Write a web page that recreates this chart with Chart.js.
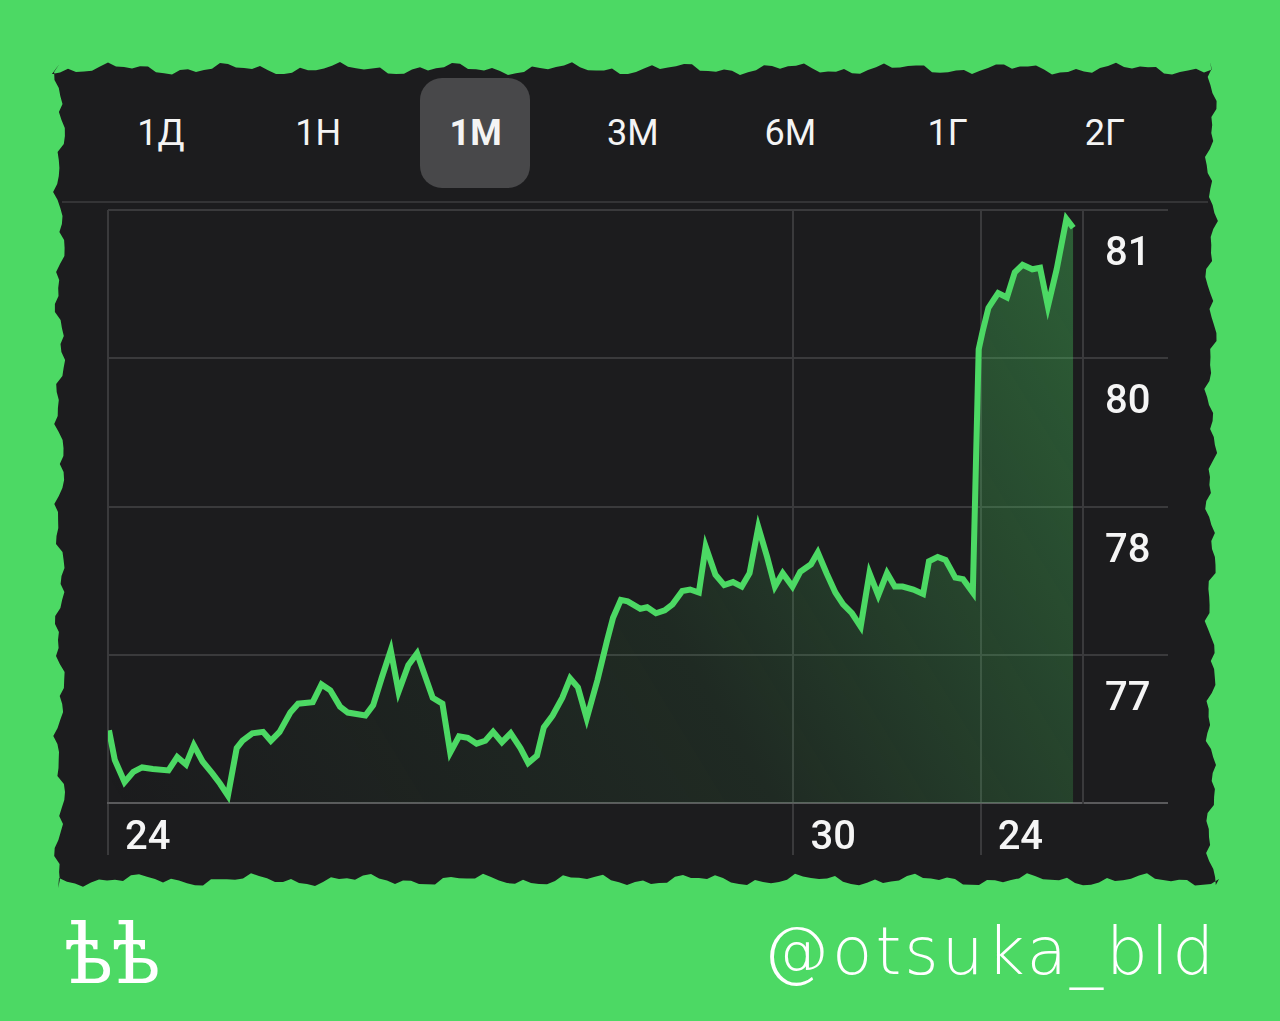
<!DOCTYPE html>
<html>
<head>
<meta charset="utf-8">
<script src="https://cdn.jsdelivr.net/npm/chart.js"></script>
<style>
  html, body { margin: 0; padding: 0; }
  body {
    width: 1280px; height: 1021px; overflow: hidden; position: relative;
    background: #4cd964;
    font-family: Roboto, "Liberation Sans", sans-serif;
  }
  #panel { position: absolute; left: 52px; top: 61px; width: 1167px; height: 827px; background: #1c1c1e; }
  #sel { position: absolute; left: 420px; top: 78px; width: 110px; height: 110px; border-radius: 22px; background: #48484a; }
  #sep { position: absolute; left: 62px; top: 201px; width: 1146px; height: 2px; background: #343436; }
  .tab {
    position: absolute; top: 103px; width: 157.33px; height: 60px; line-height: 60px;
    text-align: center; color: #f4f4f4; font-size: 36px; font-weight: 400;
  }
  .tab.on { font-weight: 700; }
  #chart { position: absolute; left: 0; top: 0; }
  #logo {
    position: absolute; left: 64px; top: 914px; height: 82px; line-height: 82px;
    font-family: "DejaVu Serif", serif; font-size: 82px; color: #fff; letter-spacing: -2px;
  }
  #handle {
    position: absolute; left: 763px; top: 919px; height: 66px; line-height: 66px;
    font-family: "DejaVu Sans ExtraLight", "DejaVu Sans", sans-serif; font-weight: 200;
    font-size: 66px; color: #fff; letter-spacing: 3px;
  }
</style>
</head>
<body>
<div id="panel"></div>
<div id="sep"></div>
<div id="sel"></div>
<div id="tabs"></div>
<canvas id="chart" width="1280" height="1021"></canvas>
<div id="logo">ѣѣ</div>
<div id="handle">@otsuka_bld</div>

<script>
// period buttons
const tabs = ['1Д', '1Н', '1М', '3М', '6М', '1Г', '2Г'];
const activeTab = 2;

// x position of each quote (session units, 0..100 across the plot)
const times = [
  0.1, 0.7, 1.7, 2.6, 3.5, 4.6, 6.2, 7.1, 8.0, 8.8,
  9.7, 10.7, 11.5, 12.3, 13.2, 13.8, 14.8, 15.9, 16.7, 17.6,
  18.7, 19.5, 21.0, 21.9, 22.8, 23.8, 24.6, 26.4, 27.2, 28.1,
  29.0, 29.8, 30.8, 31.7, 32.5, 33.3, 34.3, 35.1, 36.0, 36.9,
  37.8, 38.7, 39.5, 40.4, 41.3, 42.3, 43.1, 44.0, 44.7, 45.6,
  46.6, 47.4, 48.2, 49.1, 50.2, 51.2, 51.8, 52.6, 53.3, 54.6,
  55.3, 56.2, 57.1, 57.9, 58.9, 59.7, 60.6, 61.3, 62.3, 63.2,
  64.1, 65.0, 65.8, 66.7, 67.6, 68.4, 69.2, 70.2, 71.0, 72.1,
  72.8, 73.7, 74.6, 75.4, 76.3, 77.2, 78.1, 79.0, 79.9, 80.7,
  81.5, 82.6, 83.6, 84.2, 85.1, 85.9, 86.9, 87.7, 88.7, 89.3,
  89.7, 90.3, 90.8, 91.3, 92.2, 93.0, 93.8, 94.8, 95.6, 96.4,
  97.3, 98.3, 99.0
];

const prices = [
  76.49, 76.29, 76.14, 76.21, 76.24, 76.23, 76.22, 76.31, 76.26, 76.39,
  76.28, 76.20, 76.13, 76.05, 76.37, 76.42, 76.47, 76.48, 76.42, 76.48,
  76.61, 76.67, 76.68, 76.80, 76.76, 76.65, 76.61, 76.59, 76.66, 76.85,
  77.03, 76.75, 76.93, 77.01, 76.86, 76.71, 76.67, 76.34, 76.45, 76.44,
  76.40, 76.42, 76.48, 76.41, 76.47, 76.37, 76.27, 76.32, 76.51, 76.59,
  76.71, 76.84, 76.78, 76.57, 76.83, 77.10, 77.25, 77.37, 77.36, 77.31,
  77.32, 77.28, 77.30, 77.34, 77.43, 77.44, 77.42, 77.73, 77.54, 77.47,
  77.49, 77.46, 77.55, 77.86, 77.66, 77.46, 77.55, 77.46, 77.56, 77.61,
  77.69, 77.55, 77.42, 77.34, 77.28, 77.19, 77.55, 77.40, 77.55, 77.46,
  77.46, 77.44, 77.41, 77.63, 77.66, 77.64, 77.52, 77.51, 77.42, 79.06,
  79.18, 79.34, 79.39, 79.44, 79.41, 79.58, 79.63, 79.60, 79.61, 79.35,
  79.60, 79.94, 79.88
];

// axis ticks
const xTicks = [0, 70.3, 89.5];
const xTickLabels = ['24', '30', '24'];
const yTicks = [76, 77, 78, 79, 80];
const yTickLabels = ['', '77', '78', '80', '81'];

const green = '#4cd964';
const gridColor = '#3a3a3c';
const labelFont = { family: 'Roboto', size: 40, weight: '500', lineHeight: 1 };

// torn paper edge of the dark card
function tornEdge() {
  const panel = document.getElementById('panel');
  const w = 1167, h = 827, step = 8, pts = [];
  const j = (i, k) => 8 + 3.5 * Math.sin(i * 0.45 + k) + 2.5 * Math.sin(i * 1.3 + k * 2.1) + 1.2 * Math.sin(i * 3.7 + k * 3.3);
  for (let x = 0; x <= w; x += step) pts.push([x, j(x / step, 1)]);
  for (let y = 0; y <= h; y += step) pts.push([w - j(y / step, 2), y]);
  for (let x = w; x >= 0; x -= step) pts.push([x, h - j(x / step, 3)]);
  for (let y = h; y >= 0; y -= step) pts.push([j(y / step, 4), y]);
  panel.style.clipPath = 'polygon(' + pts.map(p => p[0].toFixed(1) + 'px ' + p[1].toFixed(1) + 'px').join(',') + ')';
}
tornEdge();

const tabBox = document.getElementById('tabs');
tabs.forEach((t, i) => {
  const d = document.createElement('div');
  d.className = 'tab' + (i === activeTab ? ' on' : '');
  d.style.left = (82.3 + i * 157.33) + 'px';
  d.textContent = t;
  tabBox.appendChild(d);
});

const ctx = document.getElementById('chart');
new Chart(ctx, {
  type: 'line',
  data: {
    datasets: [{
      data: times.map((t, i) => ({ x: t, y: prices[i] })),
      borderColor: green,
      borderWidth: 6,
      borderJoinStyle: 'miter',
      pointRadius: 0,
      tension: 0,
      fill: 'start',
      backgroundColor: (c) => {
        const a = c.chart.chartArea;
        if (!a) return 'rgba(76,217,100,0.1)';
        const g = c.chart.ctx.createLinearGradient(a.left, a.bottom, a.right, a.top);
        g.addColorStop(0, 'rgba(76,217,100,0.0)');
        g.addColorStop(0.5, 'rgba(76,217,100,0.08)');
        g.addColorStop(1, 'rgba(76,217,100,0.36)');
        return g;
      }
    }]
  },
  options: {
    responsive: false,
    animation: false,
    layout: { padding: { left: 108, top: 210, right: 112, bottom: 166 } },
    plugins: { legend: { display: false }, tooltip: { enabled: false } },
    scales: {
      x: {
        type: 'linear',
        min: 0,
        max: 100,
        afterBuildTicks: (s) => { s.ticks = xTicks.map(v => ({ value: v })); },
        afterFit: (s) => { s.height = 52; },
        grid: { color: gridColor, lineWidth: 2, tickLength: 52 },
        border: { display: true, color: '#5a5a5c', width: 2 },
        ticks: {
          align: 'start',
          labelOffset: 17,
          padding: -36,
          maxRotation: 0,
          autoSkip: false,
          color: '#f5f5f5',
          font: labelFont,
          callback: (v, i) => xTickLabels[i]
        }
      },
      y: {
        position: 'right',
        min: 76,
        max: 80,
        afterBuildTicks: (s) => { s.ticks = yTicks.map(v => ({ value: v })); },
        afterFit: (s) => { s.width = 85; },
        grid: {
          color: (c) => c.index === 0 ? '#5a5a5c' : gridColor,
          lineWidth: 2,
          tickLength: 85
        },
        border: { display: true, color: gridColor, width: 2 },
        ticks: {
          labelOffset: 45,
          padding: -63,
          color: '#f5f5f5',
          font: labelFont,
          callback: (v, i) => yTickLabels[i]
        }
      }
    }
  }
});
</script>
</body>
</html>
